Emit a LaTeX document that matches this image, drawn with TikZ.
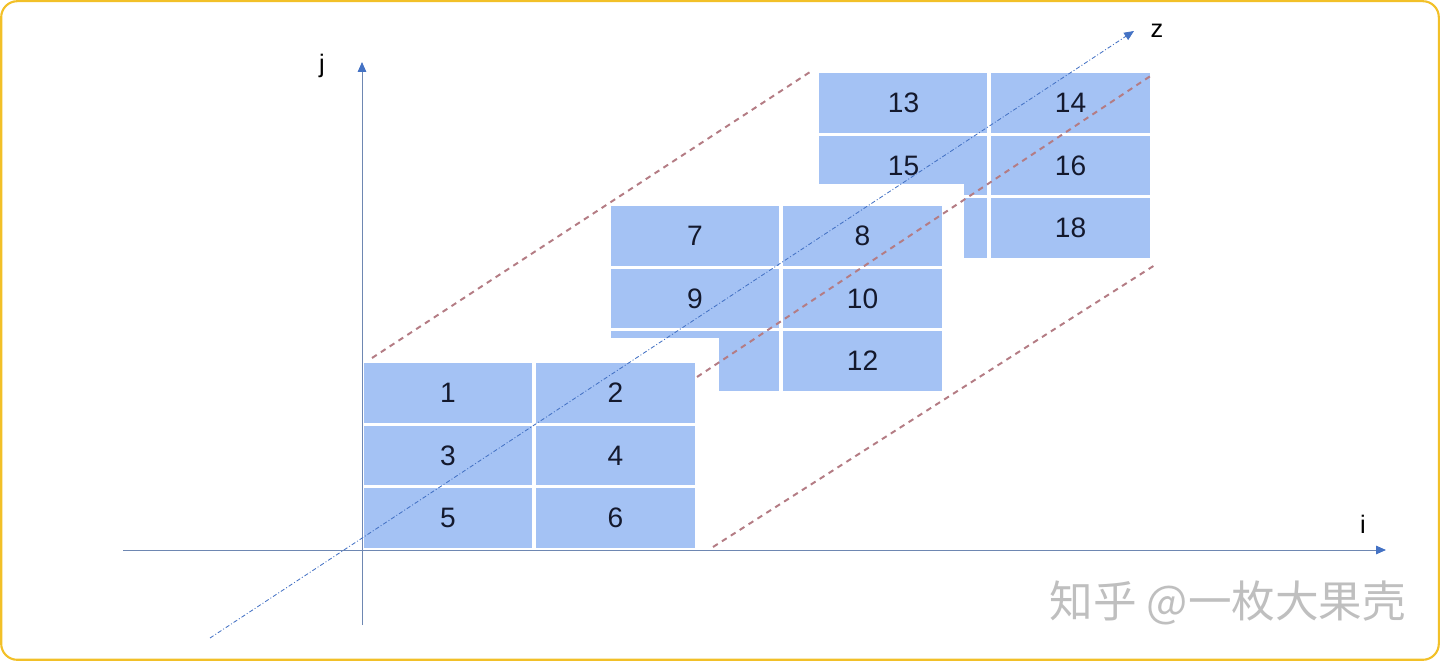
\documentclass[tikz,border=0pt]{standalone}
\usepackage{fontspec}
\setmainfont{Liberation Sans}
\newfontfamily\cjk{Noto Sans CJK SC}
\usepackage{tikz}
\usetikzlibrary{arrows.meta,positioning}
\definecolor{cellblue}{RGB}{164,194,244}
\definecolor{axisblue}{RGB}{68,114,196}
\definecolor{axisgray}{RGB}{110,135,178}
\definecolor{guide}{RGB}{180,124,132}
\definecolor{framegold}{RGB}{242,192,40}
\definecolor{digit}{RGB}{20,25,45}
\tikzset{
  cell/.style={rectangle,fill=cellblue,draw=white,line width=2.4pt,inner sep=0pt,
    minimum height=1.5625cm,text=digit,font=\fontsize{20}{24}\selectfont},
  lcol/.style={cell,minimum width=4.3cm},
  rcol/.style={cell,minimum width=4.075cm},
  axis/.style={draw=axisgray,line width=0.7pt,-{Triangle[length=7pt,width=6pt,color=axisblue]}},
  zaxis/.style={draw=axisblue,line width=0.6pt,dash pattern=on 3pt off 1.5pt on 0.7pt off 1.5pt,
    -{Triangle[length=7pt,width=6pt,color=axisblue]}},
  guideline/.style={draw=guide,line width=1.4pt,dash pattern=on 4pt off 3.5pt},
  axlabel/.style={font=\fontsize{18}{20}\selectfont,inner sep=1pt}
}
\begin{document}
\begin{tikzpicture}[x=0.025cm,y=-0.025cm]
\useasboundingbox (0,0) rectangle (1440,661);
\draw[framegold,line width=1.5pt,rounded corners=0.4cm] (1.2,1.2) rectangle (1438.8,659.8);
% back layer
\node[lcol] (c13) at (903.5,103) {13};
\node[rcol] (c14) at (1070.5,103) {14};
\node[lcol] (c15) at (903.5,165.5) {15};
\node[rcol] (c16) at (1070.5,165.5) {16};
\node[lcol] (c17) at (903.5,228) {};
\node[rcol] (c18) at (1070.5,228) {18};
\fill[white] (610,184) rectangle (964,392);
% middle layer
\node[lcol] (c7) at (695,236) {7};
\node[rcol] (c8) at (862.5,236) {8};
\node[lcol] (c9) at (695,298.5) {9};
\node[rcol] (c10) at (862.5,298.5) {10};
\node[lcol] (c11) at (695,361) {};
\node[rcol] (c12) at (862.5,361) {12};
\fill[white] (362,338) rectangle (719,549);
% front layer
\node[lcol] (c1) at (448,393) {1};
\node[rcol] (c2) at (615.5,393) {2};
\node[lcol] (c3) at (448,455.5) {3};
\node[rcol] (c4) at (615.5,455.5) {4};
\node[lcol] (c5) at (448,518) {5};
\node[rcol] (c6) at (615.5,518) {6};
% axes
\coordinate (ileft) at (123,550);
\coordinate (iend) at (1386,550);
\coordinate (jbot) at (362,625);
\coordinate (jtop) at (362,62);
\coordinate (zbot) at (210,638);
\coordinate (ztop) at (1134,31);
\draw[axis] (ileft) -- (iend);
\draw[axis] (jbot) -- (jtop);
\node[axlabel] (ilab) at (1363,524) {i};
\node[axlabel] (jlab) at (322,66) {j};
\node[axlabel] (zlab) at (1157,31) {z};
% guides between layers
\coordinate (g1s) at (372,358);
\coordinate (g1e) at (810,72);
\coordinate (g2s) at (697,377);
\coordinate (g2e) at (1152,75);
\coordinate (g3s) at (713,547);
\coordinate (g3e) at (1155,265);
\draw[guideline] (g1s) -- (g1e);
\draw[guideline] (g2s) -- (g2e);
\draw[guideline] (g3s) -- (g3e);
\draw[zaxis] (zbot) -- (ztop);
\node[text=black!25,font=\cjk\fontsize{31}{34}\selectfont] (mark) at (1228,603) {知乎 @一枚大果壳};
\end{tikzpicture}
\end{document}
